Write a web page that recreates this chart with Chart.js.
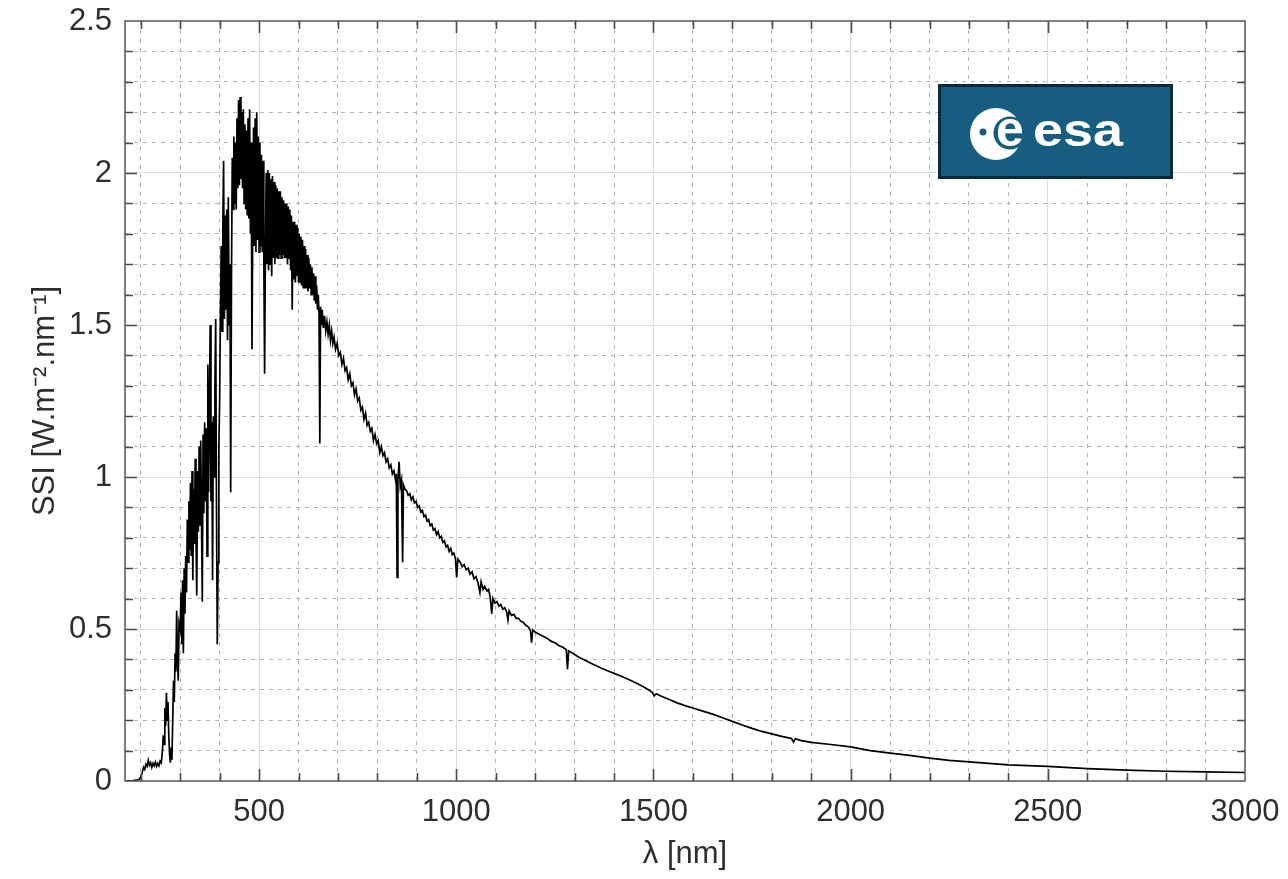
<!DOCTYPE html>
<html>
<head>
<meta charset="utf-8">
<title>Solar spectral irradiance</title>
<script src="https://cdn.jsdelivr.net/npm/chart.js@4.4.0/dist/chart.umd.min.js"></script>
<style>
    body { margin: 0; background: #fff; }
    #wrap { position: relative; width: 1288px; height: 879px; }
    #logo {
        position: absolute; left: 938px; top: 84px;
        width: 229px; height: 89px;
        background: #175d7f; border: 3px solid #0b2b3c;
    }
</style>
</head>
<body>
<div id="wrap">
    <canvas id="ssi" width="1288" height="879"></canvas>
    <div id="logo">
        <svg width="229" height="89">
            <circle cx="55" cy="47" r="26" fill="#fff"/>
            <circle cx="42" cy="45" r="3.5" fill="#175d7f"/>
            <circle cx="69" cy="46" r="16.5" fill="#175d7f"/>
            <text x="69" y="59" text-anchor="middle" fill="#fff"
                  font-family="Liberation Sans, Arial, sans-serif" font-weight="bold" font-size="50">e</text>
            <text x="92" y="59" fill="#fff" textLength="90" lengthAdjust="spacingAndGlyphs"
                  font-family="Liberation Sans, Arial, sans-serif" font-weight="bold" font-size="46">esa</text>
        </svg>
    </div>
</div>
<script>
// wavelength in nm, SSI in W.m-2.nm-1 in three pieces
const wlUV = [
    160, 180, 195, 200, 204, 207, 210, 213, 216, 219,
    222, 225, 228, 231, 234, 237, 240, 243, 246, 249,
    252, 255, 257, 259, 261, 263, 265, 267, 269, 271,
    273, 275, 277, 279, 281, 283, 285, 287, 289, 291,
    293, 295, 297
];
const ssiUV = [
    0.000, 0.001, 0.004, 0.013, 0.030, 0.045, 0.038, 0.055, 0.048, 0.068,
    0.052, 0.060, 0.045, 0.058, 0.050, 0.062, 0.048, 0.058, 0.050, 0.065,
    0.060, 0.100, 0.150, 0.120, 0.240, 0.180, 0.290, 0.200, 0.260, 0.150,
    0.090, 0.060, 0.110, 0.070, 0.200, 0.330, 0.260, 0.420, 0.360, 0.560,
    0.400, 0.330, 0.520
];

const wlVis = [
    300, 302, 304, 306, 308, 310, 312, 314, 316, 318,
    320, 322, 324, 326, 328, 330, 332, 334, 336, 338,
    340, 342, 344, 346, 348, 350, 352, 354, 356, 358,
    360, 362, 364, 366, 368, 370, 372, 374, 376, 378,
    380, 382, 384, 386, 388, 390, 392, 394, 396, 398,
    400, 402, 404, 406, 408, 410, 412, 414, 416, 418,
    420, 422, 424, 426, 428, 430, 432, 434, 436, 438,
    440, 442, 444, 446, 448, 450, 452, 454, 456, 458,
    460, 462, 464, 466, 468, 470, 472, 474, 476, 478,
    480, 482, 484, 486, 488, 490, 492, 494, 496, 498,
    500, 502, 504, 506, 508, 510, 512, 514, 516, 518,
    520, 522, 524, 526, 528, 530, 532, 534, 536, 538,
    540, 542, 544, 546, 548, 550, 552, 554, 556, 558,
    560, 562, 564, 566, 568, 570, 572, 574, 576, 578,
    580, 582, 584, 586, 588, 590, 592, 594, 596, 598,
    600, 602, 604, 606, 608, 610, 612, 614, 616, 618,
    620, 622, 624, 626, 628, 630, 632, 634, 636, 638,
    640, 642, 644, 646, 648, 650, 652, 654, 656, 658,
    660
];
const ssiVis = [
    0.50, 0.62, 0.45, 0.66, 0.42, 0.70, 0.55, 0.74, 0.62, 0.86,
    0.72, 0.92, 0.76, 0.98, 0.74, 1.02, 0.66, 0.96, 0.78, 1.06,
    0.80, 0.61, 1.02, 0.82, 1.10, 0.84, 1.12, 0.86, 0.59, 1.14,
    0.88, 1.18, 0.92, 1.16, 0.74, 1.37, 0.95, 1.22, 1.50, 0.92,
    1.18, 0.66, 1.20, 1.00, 1.30, 1.52, 0.90, 0.45, 0.72, 1.10,
    1.25, 1.55, 1.76, 1.48, 1.82, 2.04, 1.52, 1.86, 1.55, 1.88,
    1.45, 1.92, 1.50, 1.70, 0.95, 1.65, 2.05, 1.88, 2.12, 1.90,
    2.10, 1.88, 2.18, 1.95, 2.24, 1.96, 2.25, 1.98, 2.20, 1.95,
    2.21, 1.90, 2.16, 1.88, 2.14, 1.86, 2.18, 1.85, 2.21, 1.80,
    2.10, 1.42, 1.85, 2.15, 1.76, 2.18, 1.74, 2.20, 1.78, 2.12,
    1.74, 2.10, 1.76, 2.06, 1.74, 2.04, 1.72, 1.34, 1.74, 2.00,
    1.70, 2.01, 1.68, 2.00, 1.70, 1.98, 1.66, 1.99, 1.72, 1.97,
    1.70, 1.96, 1.72, 1.95, 1.72, 1.94, 1.73, 1.94, 1.72, 1.92,
    1.73, 1.91, 1.72, 1.90, 1.72, 1.90, 1.70, 1.89, 1.72, 1.88,
    1.68, 1.86, 1.55, 1.84, 1.65, 1.84, 1.64, 1.83, 1.66, 1.82,
    1.64, 1.80, 1.64, 1.79, 1.63, 1.78, 1.62, 1.76, 1.62, 1.75,
    1.62, 1.73, 1.61, 1.72, 1.62, 1.70, 1.60, 1.69, 1.60, 1.67,
    1.58, 1.66, 1.57, 1.63, 1.55, 1.60, 1.54, 1.11, 1.56, 1.50,
    1.55
];

const wlIR = [
    663, 666, 669, 672, 675, 678, 681, 684, 687, 690,
    694, 698, 702, 706, 710, 714, 718, 722, 726, 730,
    734, 738, 742, 746, 750, 754, 758, 762, 766, 770,
    774, 778, 782, 786, 790, 794, 798, 802, 806, 810,
    814, 818, 822, 826, 830, 834, 838, 842, 846, 848,
    850, 852, 855, 858, 861, 864, 866, 870, 874, 878,
    882, 886, 890, 894, 898, 902, 906, 910, 914, 918,
    922, 926, 930, 934, 938, 942, 946, 950, 954, 958,
    962, 966, 970, 974, 978, 982, 986, 990, 994, 998,
    1001, 1004, 1010, 1015, 1020, 1025, 1030, 1035, 1040, 1045,
    1050, 1055, 1060, 1063, 1068, 1072, 1078, 1082, 1086, 1090,
    1093, 1098, 1103, 1108, 1113, 1118, 1123, 1128, 1131, 1134,
    1140, 1146, 1152, 1158, 1164, 1170, 1176, 1182, 1188, 1191,
    1194, 1200, 1210, 1220, 1230, 1240, 1250, 1260, 1270, 1279,
    1282, 1285, 1295, 1310, 1325, 1340, 1355, 1370, 1385, 1400,
    1420, 1440, 1460, 1480, 1497, 1502, 1507, 1520, 1540, 1560,
    1580, 1600, 1625, 1650, 1675, 1700, 1725, 1750, 1775, 1800,
    1825, 1850, 1855, 1860, 1875, 1900, 1950, 2000, 2050, 2100,
    2150, 2200, 2250, 2300, 2400, 2500, 2600, 2700, 2800, 2900,
    3000
];
const ssiIR = [
    1.49, 1.53, 1.48, 1.51, 1.47, 1.50, 1.45, 1.48, 1.44, 1.46,
    1.42, 1.44, 1.40, 1.41, 1.37, 1.39, 1.35, 1.36, 1.32, 1.34,
    1.30, 1.31, 1.27, 1.29, 1.25, 1.26, 1.22, 1.23, 1.19, 1.21,
    1.17, 1.18, 1.15, 1.16, 1.12, 1.14, 1.11, 1.12, 1.08, 1.10,
    1.07, 1.08, 1.05, 1.06, 1.03, 1.04, 1.01, 1.02, 0.99, 1.01,
    0.67, 0.99, 1.05, 0.97, 0.99, 0.72, 0.975, 0.96, 0.955, 0.94,
    0.945, 0.925, 0.935, 0.915, 0.92, 0.90, 0.905, 0.885, 0.89, 0.87,
    0.875, 0.855, 0.86, 0.84, 0.845, 0.825, 0.83, 0.81, 0.82, 0.80,
    0.805, 0.785, 0.79, 0.77, 0.775, 0.755, 0.765, 0.745, 0.75, 0.73,
    0.67, 0.73, 0.72, 0.705, 0.712, 0.695, 0.70, 0.68, 0.688, 0.665,
    0.672, 0.652, 0.62, 0.655, 0.63, 0.64, 0.625, 0.63, 0.605, 0.55,
    0.60, 0.585, 0.59, 0.575, 0.58, 0.565, 0.57, 0.555, 0.53, 0.56,
    0.545, 0.548, 0.535, 0.535, 0.525, 0.522, 0.512, 0.508, 0.495, 0.455,
    0.497, 0.49, 0.483, 0.476, 0.47, 0.46, 0.455, 0.446, 0.44, 0.432,
    0.368, 0.428, 0.42, 0.408, 0.398, 0.388, 0.379, 0.370, 0.362, 0.354,
    0.344, 0.332, 0.320, 0.306, 0.292, 0.28, 0.287, 0.279, 0.268, 0.257,
    0.248, 0.240, 0.230, 0.220, 0.208, 0.196, 0.184, 0.173, 0.163, 0.155,
    0.147, 0.140, 0.128, 0.139, 0.133, 0.127, 0.120, 0.112, 0.100, 0.092,
    0.084, 0.075, 0.068, 0.063, 0.053, 0.048, 0.041, 0.036, 0.032, 0.030,
    0.028
];

const wavelength = wlUV.concat(wlVis, wlIR);
const ssi = ssiUV.concat(ssiVis, ssiIR);

const xTicks = [500, 1000, 1500, 2000, 2500, 3000];
const xTickLabels = ['500', '1000', '1500', '2000', '2500', '3000'];
const yTicks = [0, 0.5, 1, 1.5, 2, 2.5];
const yTickLabels = ['0', '0.5', '1', '1.5', '2', '2.5'];

const xMin = 160, xMax = 3000, yMin = 0, yMax = 2.5;
const xMinorStep = 100, yMinorStep = 0.1;

function isMajor(v, step) {
    return Math.abs(v / step - Math.round(v / step)) < 1e-6;
}

let xMinorTicks = [];
for (let v = 200; v < xMax; v += xMinorStep) xMinorTicks.push(v);
let yMinorTicks = [];
for (let i = 1; i < 25; i++) yMinorTicks.push(Math.round(i * yMinorStep * 10) / 10);

const textColor = '#2e2e2e';
const font = { family: "'Liberation Sans', Arial, Helvetica, sans-serif", size: 31 };

// box round the plot, with the ticks pointing inward
const frame = {
    id: 'frame',
    afterDatasetsDraw(chart) {
        const { ctx, chartArea: a, scales } = chart;
        ctx.save();
        ctx.strokeStyle = '#4a4a4a';
        ctx.lineWidth = 1.6;
        ctx.beginPath();
        scales.xMinor.ticks.forEach(t => {
            const px = Math.round(scales.xMinor.getPixelForValue(t.value)) + 0.5;
            const len = isMajor(t.value, 500) ? 12 : 8;
            ctx.moveTo(px, a.bottom); ctx.lineTo(px, a.bottom - len);
            ctx.moveTo(px, a.top); ctx.lineTo(px, a.top + len);
        });
        scales.yMinor.ticks.forEach(t => {
            const py = Math.round(scales.yMinor.getPixelForValue(t.value)) + 0.5;
            const len = isMajor(t.value, 0.5) ? 12 : 8;
            ctx.moveTo(a.left, py); ctx.lineTo(a.left + len, py);
            ctx.moveTo(a.right, py); ctx.lineTo(a.right - len, py);
        });
        ctx.stroke();
        ctx.strokeStyle = '#555';
        ctx.lineWidth = 1.5;
        ctx.strokeRect(a.left, a.top, a.width, a.height);
        ctx.restore();
    }
};

// the axes are given fixed sizes so the plot box sits where it does in the picture
function fitX(h) {
    return s => { s.height = h; s.paddingLeft = 0; s.paddingRight = 0; };
}
function fitY(w) {
    return s => { s.width = w; s.paddingTop = 0; s.paddingBottom = 0; };
}

const points = wavelength.map((w, i) => ({ x: w, y: ssi[i] }));

new Chart(document.getElementById('ssi'), {
    type: 'line',
    data: {
        datasets: [{
            data: points,
            borderColor: '#000',
            borderWidth: 1.7,
            pointRadius: 0,
            fill: false,
            tension: 0,
            xAxisID: 'x',
            yAxisID: 'y'
        }]
    },
    options: {
        responsive: false,
        animation: false,
        devicePixelRatio: 1,
        layout: { padding: { top: 21, right: 43, left: 0, bottom: 0 } },
        plugins: {
            legend: { display: false },
            tooltip: { enabled: false }
        },
        scales: {
            x: {
                type: 'linear',
                position: 'bottom',
                min: xMin,
                max: xMax,
                afterBuildTicks: s => { s.ticks = xTicks.map(v => ({ value: v })); },
                afterFit: fitX(98),
                ticks: {
                    padding: 13,
                    color: textColor,
                    font: font,
                    maxRotation: 0,
                    autoSkip: false,
                    callback: (v, i) => xTickLabels[i]
                },
                grid: {
                    drawTicks: false,
                    color: ctx => (ctx.tick && ctx.tick.value < xMax) ? '#dcdcdc' : 'rgba(0,0,0,0)',
                    lineWidth: 1
                },
                border: { display: false },
                title: {
                    display: true,
                    text: 'λ [nm]',
                    color: textColor,
                    font: font,
                    padding: { top: 0, bottom: 6 }
                }
            },
            xMinor: {
                type: 'linear',
                position: 'bottom',
                min: xMin,
                max: xMax,
                afterBuildTicks: s => { s.ticks = xMinorTicks.map(v => ({ value: v })); },
                afterFit: fitX(0),
                ticks: { display: false },
                grid: {
                    drawTicks: false,
                    color: ctx => (ctx.tick && !isMajor(ctx.tick.value, 500)) ? '#b4b4b4' : 'rgba(0,0,0,0)',
                    lineWidth: 1
                },
                border: { display: false, dash: [4, 5] }
            },
            y: {
                type: 'linear',
                position: 'left',
                min: yMin,
                max: yMax,
                afterBuildTicks: s => { s.ticks = yTicks.map(v => ({ value: v })); },
                afterFit: fitY(125),
                ticks: {
                    padding: 13,
                    color: textColor,
                    font: font,
                    autoSkip: false,
                    callback: (v, i) => yTickLabels[i]
                },
                grid: {
                    drawTicks: false,
                    color: ctx => (ctx.tick && ctx.tick.value > yMin && ctx.tick.value < yMax) ? '#dcdcdc' : 'rgba(0,0,0,0)',
                    lineWidth: 1
                },
                border: { display: false },
                title: {
                    display: true,
                    text: 'SSI [W.m⁻².nm⁻¹]',
                    color: textColor,
                    font: font,
                    padding: { top: 27, bottom: 0 }
                }
            },
            yMinor: {
                type: 'linear',
                position: 'left',
                min: yMin,
                max: yMax,
                afterBuildTicks: s => { s.ticks = yMinorTicks.map(v => ({ value: v })); },
                afterFit: fitY(0),
                ticks: { display: false },
                grid: {
                    drawTicks: false,
                    color: ctx => (ctx.tick && !isMajor(ctx.tick.value, 0.5)) ? '#b4b4b4' : 'rgba(0,0,0,0)',
                    lineWidth: 1
                },
                border: { display: false, dash: [4, 5] }
            }
        }
    },
    plugins: [frame]
});
</script>
</body>
</html>
